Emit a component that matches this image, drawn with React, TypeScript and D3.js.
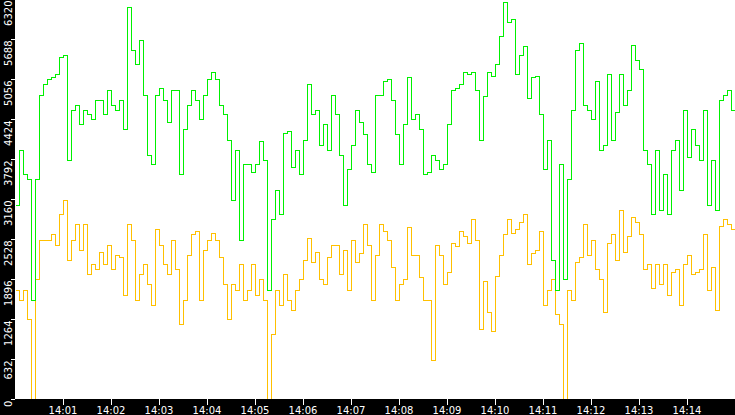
import React, { useRef, useEffect } from 'react';
import * as d3 from 'd3';

const width = 735;
const height = 415;

// one sample every 5 seconds, 14:00:00 to 14:15:00
const sampleSeconds = d3.range(0, 901, 5);

const greenSeries = [
  3070, 3940, 3550, 3470, 1570, 3470, 4810, 4970, 5050, 5080, 5130, 5400, 5440, 3780, 4570, 4650, 4340, 4570, 4500, 4420, 4730, 4730, 4500, 4890, 4650, 4570, 4730,
  4260, 6200, 5520, 5290, 5680, 4810, 3860, 3710, 4810, 4920, 4730, 4380, 4890, 4890, 3550, 4260, 4650, 4890, 4730, 4420, 4810, 5050, 5170, 5050, 4650, 4500,
  4100, 3150, 3940, 2520, 3710, 3710, 3590, 3710, 4070, 3780, 1730, 2840, 3310, 2920, 4210, 4230, 3660, 3940, 3550, 4100, 4970, 4500, 4570, 4020, 4340, 3940,
  4810, 4500, 3860, 3070, 3630, 4020, 4570, 4380, 4180, 3710, 3590, 4810, 4810, 5020, 5050, 4730, 4180, 3710, 4340, 5080, 4420, 4500, 4260, 3550, 3590, 3860,
  3780, 3630, 3710, 4340, 4890, 4920, 4970, 5160, 5130, 5160, 4890, 4100, 4780, 5160, 5100, 5290, 5730, 6270, 5960, 6000, 5130, 5440, 5570, 4760, 5080, 5100, 4500,
  3630, 4100, 2200, 1730, 3710, 1890, 3470, 4570, 5520, 5630, 4650, 4570, 4420, 5020, 3940, 4020, 5130, 4100, 4540, 5130, 4650, 4890, 5600, 5360, 5210, 3940,
  3710, 2920, 3940, 2990, 3550, 2920, 3940, 4100, 3310, 4570, 3820, 4260, 4020, 3780, 4570, 3070, 3780, 2990, 4730, 4810, 4890, 4570, 1570,
];

const amberSeries = [
  1730, 1570, 1730, 1260, 0, 1890, 2520, 2520, 2520, 2600, 2440, 2920, 3150, 2200, 2520, 2760, 2360, 2760, 1970, 2130, 2050, 2330, 2130, 2440, 2050, 2280, 2240,
  1650, 2760, 2520, 1570, 1970, 2130, 1810, 1490, 2680, 2440, 2130, 1970, 2520, 2050, 1180, 1570, 2280, 2600, 2650, 1570, 2360, 2520, 2630, 2520, 2240, 1810,
  1260, 1810, 1730, 2130, 1570, 1730, 2130, 1650, 1890, 1570, 0, 1020, 1730, 1490, 1970, 1570, 1410, 1730, 1890, 2200, 2550, 2160, 2330, 1890, 1810, 2240,
  2440, 2440, 1970, 2360, 1730, 2520, 2170, 2310, 2760, 2440, 1570, 2280, 2760, 2650, 2520, 2080, 1570, 1810, 1890, 2710, 2280, 2280, 1920, 1570, 1570, 620,
  2440, 2280, 1810, 2010, 2470, 2410, 2650, 2570, 2470, 2840, 2520, 1100, 1860, 1370, 1070, 1940, 2280, 2600, 2840, 2630, 2680, 2800, 2920, 2130, 2310, 2360, 2650,
  1490, 1730, 1890, 1340, 1180, 0, 1730, 1570, 2170, 2240, 2760, 2280, 2520, 2050, 1890, 1380, 2470, 2600, 2200, 2990, 2330, 2570, 2870, 2790, 2600, 2050,
  2130, 1760, 2130, 1810, 2130, 1650, 2010, 2050, 1490, 2130, 2280, 1970, 2010, 2050, 2600, 1730, 2080, 1410, 2730, 2840, 2760, 2680, 0,
];

const yTicks = [0, 632, 1264, 1896, 2528, 3160, 3792, 4424, 5056, 5688, 6320];
const xTickLabels = ['14:01', '14:02', '14:03', '14:04', '14:05', '14:06', '14:07', '14:08', '14:09', '14:10', '14:11', '14:12', '14:13', '14:14'];

const App: React.FC = () => {
  const svgRef = useRef<SVGSVGElement>(null);

  useEffect(() => {
    if (!svgRef.current) return;
    document.body.style.margin = '0';

    const svg = d3.select(svgRef.current);
    svg.selectAll('*').remove();

    const left = 15;
    const bottom = 399;
    const font = '"DejaVu Sans", Verdana, sans-serif';

    const start = new Date(2000, 0, 1, 14, 0, 0);
    const parseTime = d3.timeParse('%H:%M');
    const at = (s: string) => {
      const t = parseTime(s)!;
      return new Date(2000, 0, 1, t.getHours(), t.getMinutes(), 0);
    };

    const x = d3.scaleTime()
      .domain([start, d3.timeSecond.offset(start, 900)])
      .range([left, width]);
    const y = d3.scaleLinear().domain([0, 6320]).range([399.5, -0.5]);
    // snap to pixel centres so 1px strokes stay sharp
    const px = (v: number) => Math.round(v - 0.5) + 0.5;
    const cx = (v: number) => Math.round(v) + 0.5;

    // background + black axis bands
    svg.append('rect').attr('width', width).attr('height', height).attr('fill', '#ffffff');
    svg.append('rect').attr('x', 0).attr('y', 0).attr('width', left).attr('height', height).attr('fill', '#000');
    svg.append('rect').attr('x', 0).attr('y', bottom).attr('width', width).attr('height', height - bottom).attr('fill', '#000');

    svg.append('clipPath').attr('id', 'plot-clip')
      .append('rect').attr('x', left).attr('y', 0).attr('width', width - left).attr('height', bottom);

    const line = d3.line<number>()
      .x((_, i) => cx(x(d3.timeSecond.offset(start, sampleSeconds[i]))))
      .y(d => px(y(d)))
      .curve(d3.curveStepAfter);

    const lines = svg.append('g').attr('clip-path', 'url(#plot-clip)');
    lines.append('path')
      .attr('d', line(amberSeries))
      .attr('fill', 'none')
      .attr('stroke', '#ffc000')
      .attr('stroke-width', 1)
      .attr('shape-rendering', 'crispEdges');
    lines.append('path')
      .attr('d', line(greenSeries))
      .attr('fill', 'none')
      .attr('stroke', '#00f000')
      .attr('stroke-width', 1)
      .attr('shape-rendering', 'crispEdges');

    // y axis
    const yAxis = svg.append('g');
    yAxis.selectAll('line')
      .data(yTicks)
      .enter()
      .append('line')
      .attr('x1', 11)
      .attr('x2', left)
      .attr('y1', d => px(y(d)))
      .attr('y2', d => px(y(d)))
      .attr('stroke', '#fff')
      .attr('shape-rendering', 'crispEdges');
    yAxis.selectAll('text')
      .data(yTicks)
      .enter()
      .append('text')
      .attr('transform', d => `translate(11.5,${y(d) + 1}) rotate(-90)`)
      .attr('text-anchor', 'end')
      .attr('font-family', font)
      .attr('font-size', '10px')
      .attr('fill', '#fff')
      .text(d => d);

    // x axis
    const xAxis = svg.append('g');
    xAxis.selectAll('line')
      .data(xTickLabels)
      .enter()
      .append('line')
      .attr('x1', d => cx(x(at(d))))
      .attr('x2', d => cx(x(at(d))))
      .attr('y1', bottom)
      .attr('y2', bottom + 6)
      .attr('stroke', '#fff')
      .attr('shape-rendering', 'crispEdges');
    xAxis.selectAll('text')
      .data(xTickLabels)
      .enter()
      .append('text')
      .attr('x', d => x(at(d)))
      .attr('y', 413.5)
      .attr('text-anchor', 'middle')
      .attr('font-family', font)
      .attr('font-size', '10px')
      .attr('fill', '#fff')
      .text(d => d);
  }, []);

  return (
    <svg
      ref={svgRef}
      width={width}
      height={height}
      style={{ position: 'fixed', left: 0, top: 0, display: 'block' }}
    />
  );
};

export default App;
